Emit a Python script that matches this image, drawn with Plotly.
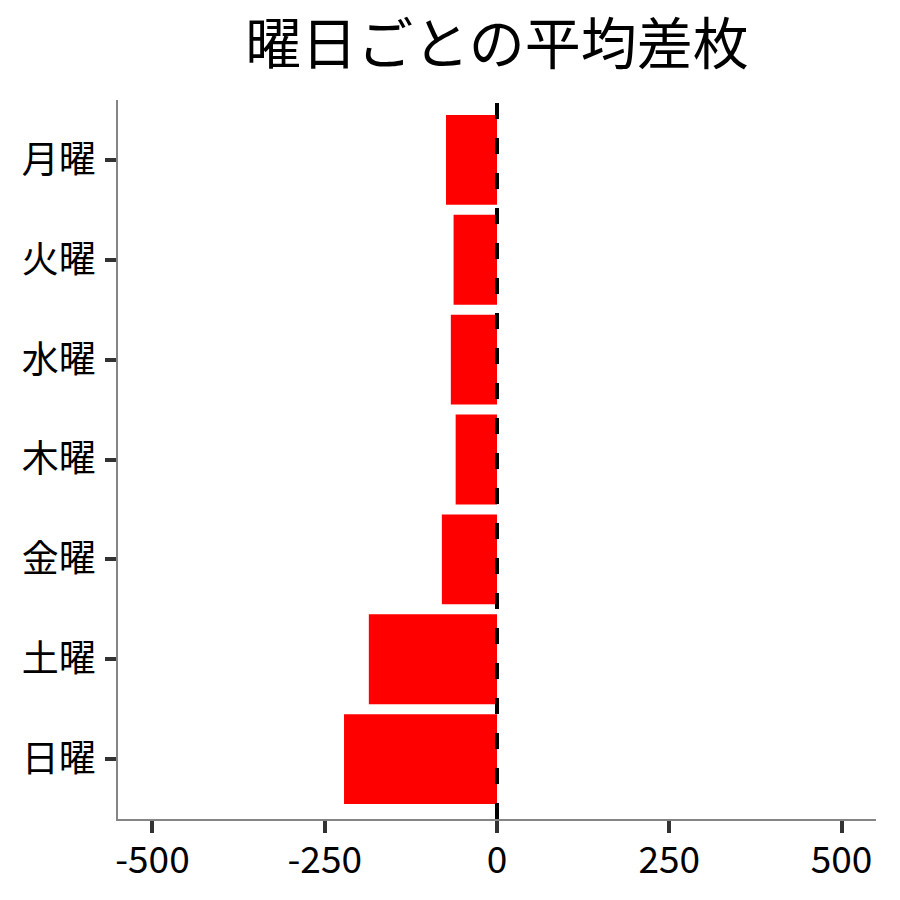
import plotly.graph_objects as go

# average difference per weekday
days = ["月曜", "火曜", "水曜", "木曜", "金曜", "土曜", "日曜"]
avg_diff = [-74, -63, -67, -60, -80, -186, -222]
x_ticks = [-500, -250, 0, 250, 500]

FONT = "Noto Sans CJK JP"

fig = go.Figure(go.Bar(
    x=avg_diff,
    y=days,
    orientation="h",
    width=0.9,
    marker=dict(color="#ff0000", line=dict(width=0)),
))

# dashed zero line across the whole panel
fig.add_shape(type="line", x0=0, x1=0, y0=0, y1=1, xref="x", yref="paper",
              line=dict(color="black", width=4, dash="16px,19px"), layer="above")

# page body adds an 8px offset, margins account for it
fig.update_layout(
    width=900, height=900,
    margin=dict(l=110, r=32, t=92, b=89),
    paper_bgcolor="white", plot_bgcolor="white",
    font=dict(family=FONT, color="black"),
    title=dict(text="曜日ごとの平均差枚", x=0.5, xref="paper", xanchor="center",
               y=0.96, yref="container", yanchor="middle",
               font=dict(size=56, family=FONT, color="black")),
    showlegend=False,
    bargap=0.1,
)
fig.update_xaxes(range=[-550, 550], tickvals=x_ticks, ticktext=[str(v) for v in x_ticks],
                 showgrid=False, zeroline=False, showline=True, linecolor="#858585", linewidth=1.6,
                 ticks="outside", ticklen=12, tickwidth=4, tickcolor="#333333",
                 ticklabelstandoff=-4,
                 tickfont=dict(size=37, family=FONT, color="black"))
fig.update_yaxes(categoryorder="array", categoryarray=days, autorange=False, range=[6.6, -0.6],
                 showgrid=False, zeroline=False, showline=True, linecolor="#858585", linewidth=1.6,
                 ticks="outside", ticklen=11, tickwidth=4, tickcolor="#333333",
                 ticklabelstandoff=2,
                 tickfont=dict(size=37, family=FONT, color="black"))

fig.write_html("out.html")
